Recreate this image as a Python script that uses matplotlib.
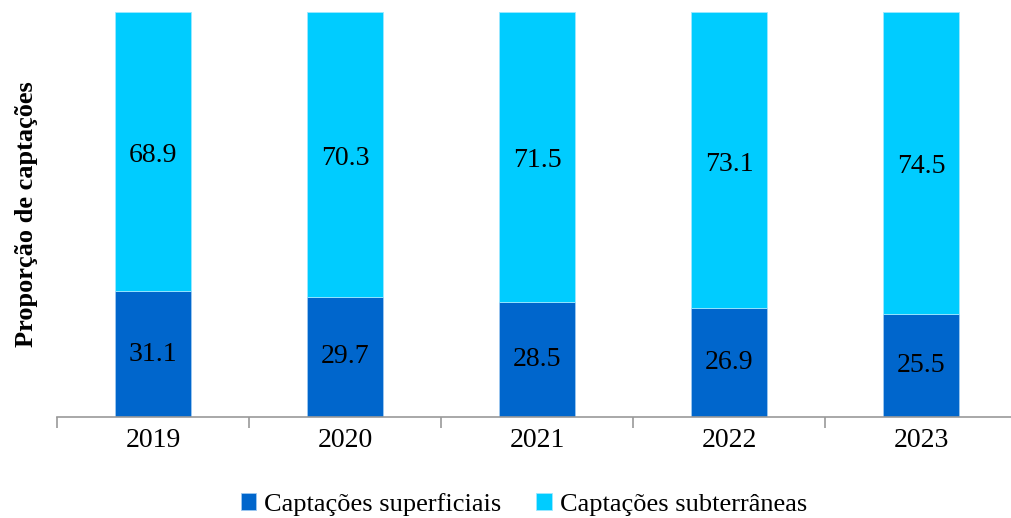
import numpy as np
import matplotlib.pyplot as plt

plt.rcParams['font.family'] = ['Liberation Serif', 'DejaVu Serif']

years = ['2019', '2020', '2021', '2022', '2023']
superficiais = [31.1, 29.7, 28.5, 26.9, 25.5]
subterraneas = [68.9, 70.3, 71.5, 73.1, 74.5]

fig = plt.figure(figsize=(10.11, 5.18), dpi=100)
ax = fig.add_axes([57 / 1011, 0.195, 960 / 1011, 0.782])

x = np.arange(len(years))
w = 0.4
b1 = ax.bar(x, superficiais, w, color='#0066CC', edgecolor='#9ec8f0', linewidth=0.6,
            label='Captações superficiais')
b2 = ax.bar(x, subterraneas, w, bottom=superficiais, color='#00CCFF', edgecolor='#9ee8ff',
            linewidth=0.6, label='Captações subterrâneas')

for xi, s, t in zip(x, superficiais, subterraneas):
    ax.text(xi, s / 2, f'{s:.1f}', ha='center', va='center', fontsize=20)
    ax.text(xi, s + t / 2 - 1, f'{t:.1f}', ha='center', va='center', fontsize=20)

ax.set_xlim(-0.5, len(years) - 0.5)
ax.set_ylim(0, 100)
ax.set_xticks(x)
ax.set_xticklabels(years, fontsize=20)
ax.tick_params(axis='x', which='major', length=0, pad=8)
ax.set_xticks(np.arange(-0.5, len(years)), minor=True)
ax.tick_params(axis='x', which='minor', length=8, color='#999999', width=1.2)
ax.set_yticks([])

for side in ['top', 'right', 'left']:
    ax.spines[side].set_visible(False)
ax.spines['bottom'].set_color('#999999')
ax.spines['bottom'].set_linewidth(1.2)

ax.set_ylabel('Proporção de captações', fontsize=19, fontweight='bold', labelpad=14)

fig.legend(handles=[b1, b2], loc='center', bbox_to_anchor=(0.518, 0.026), ncol=2,
           frameon=False, fontsize=19, handlelength=0.6, handleheight=0.6,
           handletextpad=0.3, columnspacing=1.3)

fig.savefig('out.png', dpi=100)
